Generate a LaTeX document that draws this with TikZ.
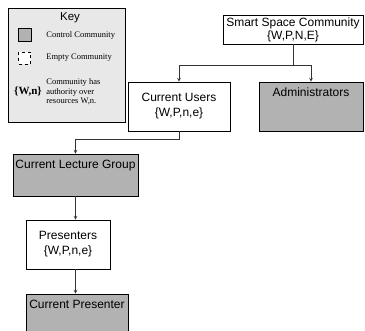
\documentclass[tikz,border=0pt]{standalone}
\usepackage{fontspec}
\setmainfont{Liberation Sans}
\newfontfamily\keyfont{Liberation Serif}
\usetikzlibrary{positioning}
\tikzset{
  wbox/.style={draw,fill=white,align=center,inner sep=0pt,font=\fontsize{12}{15}\selectfont},
  gbox/.style={draw,fill=black!30,inner sep=0pt},
  gtext/.style={inner sep=6pt,font=\fontsize{12}{14}\selectfont},
  link/.style={draw=black!80},
  arrow/.style={link,-stealth},
  keytext/.style={anchor=west,inner sep=0pt,align=left,font=\keyfont\fontsize{8.5}{9.5}\selectfont},
}
\begin{document}
\begin{tikzpicture}[x=1pt,y=1pt,line width=0.7pt]
\useasboundingbox (0,0) rectangle (365,-331);
\clip (0,0) rectangle (365,-331);
\node[draw,fill=black!9,minimum width=117,minimum height=114,inner sep=0pt] (key) at (66.5,-65) {};
\node[font=\fontsize{11.5}{13}\selectfont] (keytitle) at (70,-18) {Key};
\node[draw,fill=black!30,minimum size=13,inner sep=0pt] (keyctrl) at (24.5,-35) {};
\node[draw,dashed,fill=white,minimum size=12,inner sep=0pt] (keyempty) at (24.5,-58) {};
\node[keytext] (ctrltext) at (46,-35) {Control Community};
\node[keytext] (emptytext) at (46,-58) {Empty Community};
\node[inner sep=0pt,font=\keyfont\bfseries\fontsize{11}{13}\selectfont] (keyset) at (28,-92) {\{W,n\}};
\node[keytext] (settext) at (46,-92) {Community has\\authority over\\resources W,n.};
\node[wbox,minimum width=140,minimum height=29,font=\fontsize{12}{13}\selectfont] (smart) at (293,-29.5) {Smart Space Community\\\{W,P,N,E\}};
\node[wbox,minimum width=102,minimum height=49] (users) at (179,-106.5) {Current Users\\\{W,P,n,e\}};
\node[gbox,minimum width=104,minimum height=49,label={[gtext,anchor=north]north:Administrators}] (admin) at (311,-106.5) {};
\node[gbox,minimum width=125,minimum height=42,label={[gtext,anchor=north]north:Current Lecture Group}] (clg) at (75.5,-175) {};
\node[wbox,minimum width=84,minimum height=49] (pres) at (68,-244.5) {Presenters\\\{W,P,n,e\}};
\node[gbox,minimum width=102,minimum height=46,label={[gtext,anchor=north]north:Current Presenter}] (cp) at (77,-317) {};
\coordinate (split) at (smart.south |- 0,-65);
\draw[link] (smart.south) -- (split);
\draw[arrow] (split) -| (users.north);
\draw[arrow] (split) -| (admin.north);
\draw[arrow] (users.south) -- ++(0,-8) -| (clg.north);
\draw[arrow] (clg.south) -- (clg.south |- pres.north);
\draw[arrow] (pres.south -| clg.south) -- (cp.north -| clg.south);
\end{tikzpicture}
\end{document}
